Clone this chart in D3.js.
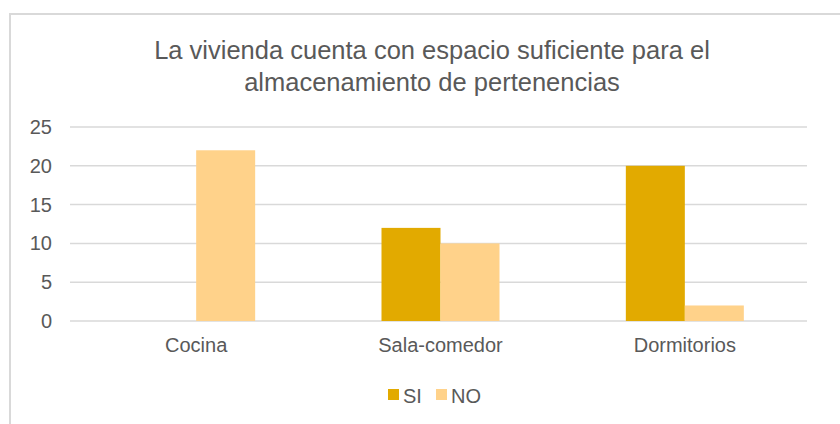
<!DOCTYPE html>
<html>
<head>
<meta charset="utf-8">
<script src="https://cdn.jsdelivr.net/npm/d3@7"></script>
<style>
  body { margin: 0; background: #fff; }
  text { font-family: "Liberation Sans", Arial, sans-serif; fill: #595959; }
</style>
</head>
<body>
<div id="chart"></div>
<script>
var categories = ["Cocina", "Sala-comedor", "Dormitorios"];
var seriesNames = ["SI", "NO"];
var siValues = [0, 12, 20];
var noValues = [22, 10, 2];
var yTicks = [0, 5, 10, 15, 20, 25];
var titleLines = ["La vivienda cuenta con espacio suficiente para el", "almacenamiento de pertenencias"];

var colors = { SI: "#E2AA00", NO: "#FFD28A" };

var W = 840, H = 424;
var svg = d3.select("#chart")
    .append("svg")
    .attr("width", W)
    .attr("height", H);

// chart frame (runs off the right and bottom edge)
svg.append("rect")
    .attr("x", 10)
    .attr("y", 14)
    .attr("width", 900)
    .attr("height", 500)
    .attr("fill", "#fff")
    .attr("stroke", "#d9d9d9")
    .attr("stroke-width", 2);

// title
svg.append("text")
    .attr("text-anchor", "middle")
    .style("font-size", "25.5px")
    .selectAll("tspan")
    .data(titleLines)
    .join("tspan")
    .attr("x", 432)
    .attr("y", function (d, i) { return 59 + i * 32; })
    .text(function (d) { return d; });

var table = categories.map(function (c, i) {
    return { cat: c, SI: siValues[i], NO: noValues[i] };
});

// scales
var x0 = d3.scaleBand()
    .domain(categories)
    .range([74, 807]);

var barW = 59;
var x1 = d3.scaleBand()
    .domain(seriesNames)
    .range([x0.bandwidth() / 2 - barW, x0.bandwidth() / 2 + barW]);

var y = d3.scaleLinear()
    .domain([0, 25])
    .range([321, 127]);

// gridlines
svg.append("g")
    .selectAll("line")
    .data(yTicks)
    .join("line")
    .attr("x1", 70)
    .attr("x2", 807)
    .attr("y1", function (d) { return y(d); })
    .attr("y2", function (d) { return y(d); })
    .attr("stroke", "#d9d9d9")
    .attr("stroke-width", 1.5);

// y axis labels
var yAxis = d3.axisLeft(y).tickValues(yTicks).tickSize(0).tickPadding(0);
var gy = svg.append("g")
    .attr("transform", "translate(52,0)")
    .call(yAxis);
gy.select(".domain").remove();
gy.selectAll("text")
    .attr("fill", "#595959")
    .style("font-size", "20px")
    .style("font-family", "'Liberation Sans', Arial, sans-serif");

// bars
svg.append("g")
    .selectAll("g")
    .data(table)
    .join("g")
    .attr("transform", function (d) { return "translate(" + x0(d.cat) + ",0)"; })
    .selectAll("rect")
    .data(function (d) { return seriesNames.map(function (s) { return { key: s, value: d[s] }; }); })
    .join("rect")
    .attr("x", function (d) { return x1(d.key); })
    .attr("width", x1.bandwidth())
    .attr("y", function (d) { return y(d.value); })
    .attr("height", function (d) { return y(0) - y(d.value); })
    .attr("fill", function (d) { return colors[d.key]; });

// x axis labels
var xAxis = d3.axisBottom(x0).tickSize(0).tickPadding(0);
var gx = svg.append("g")
    .attr("transform", "translate(0,338)")
    .call(xAxis);
gx.select(".domain").remove();
gx.selectAll("text")
    .attr("fill", "#595959")
    .style("font-size", "20px")
    .style("font-family", "'Liberation Sans', Arial, sans-serif");

// legend
var legendX = [388, 436];
var legend = svg.append("g")
    .selectAll("g")
    .data(seriesNames)
    .join("g")
    .attr("transform", function (d, i) { return "translate(" + legendX[i] + ",389)"; });
legend.append("rect")
    .attr("width", 11)
    .attr("height", 11)
    .attr("fill", function (d) { return colors[d]; });
legend.append("text")
    .attr("x", 15)
    .attr("y", 13.5)
    .style("font-size", "20px")
    .text(function (d) { return d; });
</script>
</body>
</html>
